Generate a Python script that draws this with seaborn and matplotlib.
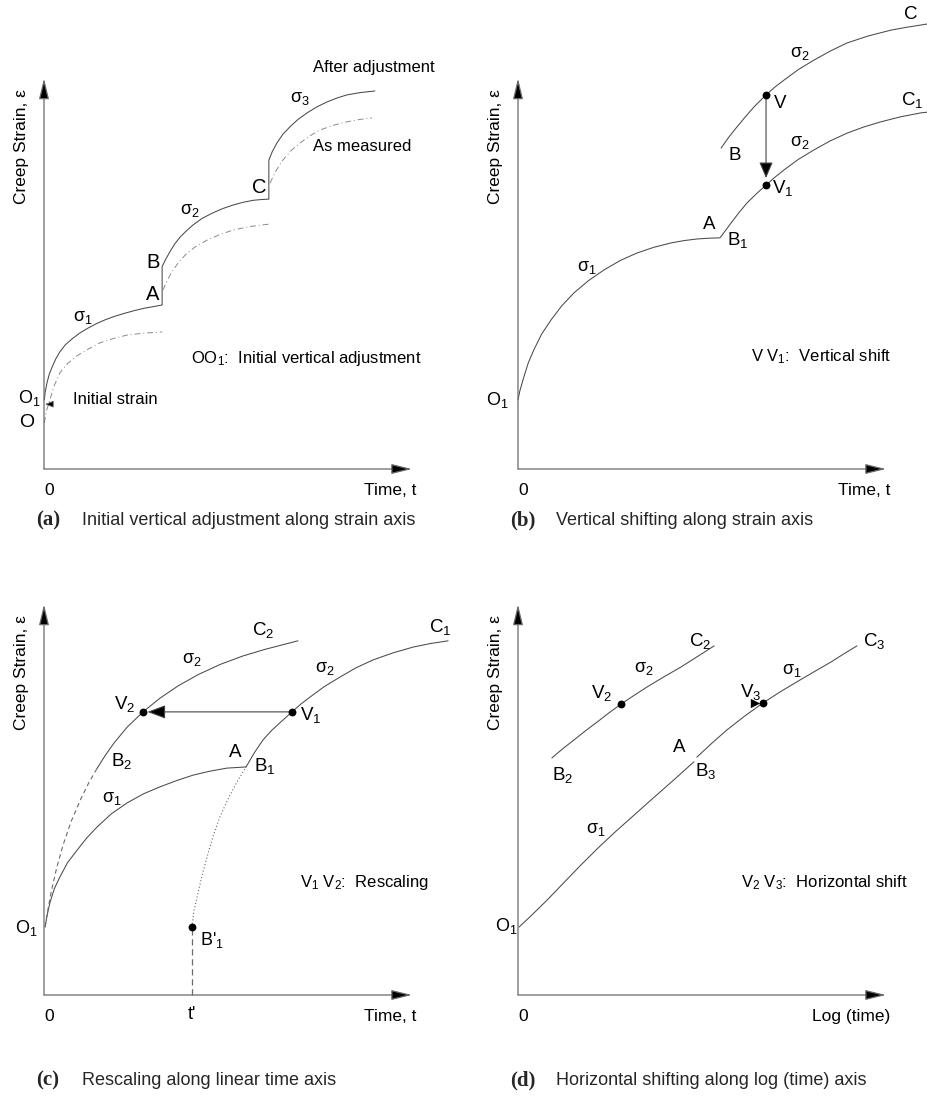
import numpy as np
import pandas as pd
import matplotlib
matplotlib.use("Agg")
import matplotlib.pyplot as plt
import seaborn as sns

# ---------------------------------------------------------------------------
# Curve data (time units along x, strain units along y; axes run 0..10)
# ---------------------------------------------------------------------------

# (a) initial vertical adjustment: adjusted curve (with the two load jumps)
a_adj_t = [0.01, 0.03, 0.08, 0.14, 0.22, 0.32, 0.43, 0.58, 0.76, 0.97, 1.20, 1.42,
           1.66, 1.92, 2.20, 2.47, 2.74, 2.98, 3.21,
           3.21, 3.30, 3.42, 3.55, 3.70, 3.87, 4.05, 4.30, 4.59, 4.86, 5.14, 5.41,
           5.68, 5.90, 6.11,
           6.11, 6.20, 6.33, 6.49, 6.68, 6.90, 7.15, 7.41, 7.69, 7.96, 8.23, 8.60, 8.99]
a_adj_e = [1.77, 1.96, 2.20, 2.42, 2.61, 2.82, 3.00, 3.18, 3.33, 3.48, 3.61, 3.72,
           3.82, 3.91, 3.99, 4.06, 4.12, 4.16, 4.20,
           5.18, 5.36, 5.56, 5.76, 5.94, 6.10, 6.25, 6.42, 6.56, 6.67, 6.76, 6.83,
           6.88, 6.90, 6.91,
           7.91, 8.12, 8.35, 8.57, 8.76, 8.95, 9.12, 9.27, 9.40, 9.50, 9.58, 9.64, 9.68]
# (a) as measured, one piece per stress level
a_meas1_t = [0.01, 0.06, 0.16, 0.28, 0.43, 0.64, 0.90, 1.20, 1.52, 1.88, 2.26, 2.72, 3.21]
a_meas1_e = [1.18, 1.47, 1.77, 2.14, 2.46, 2.70, 2.90, 3.07, 3.23, 3.34, 3.43, 3.48, 3.51]
a_meas2_t = [3.23, 3.36, 3.51, 3.69, 3.89, 4.14, 4.43, 4.77, 5.14, 5.60, 6.11]
a_meas2_e = [4.58, 4.85, 5.10, 5.33, 5.53, 5.71, 5.86, 6.00, 6.12, 6.21, 6.27]
a_meas3_t = [6.14, 6.30, 6.49, 6.71, 6.96, 7.22, 7.50, 7.85, 8.23, 8.57, 8.91]
a_meas3_e = [7.32, 7.63, 7.91, 8.15, 8.35, 8.53, 8.68, 8.80, 8.89, 8.95, 8.99]

# (b) vertical shifting
b_low_t = [0.00, 0.05, 0.16, 0.28, 0.43, 0.64, 0.90, 1.19, 1.52, 1.91, 2.34, 2.78,
           3.23, 3.70, 4.16, 4.52, 4.86, 5.18, 5.49,
           5.79, 6.00, 6.22, 6.48, 6.74, 6.98, 7.23, 7.62, 8.04, 8.48, 8.94, 9.40,
           9.86, 10.40, 10.95, 11.14]
b_low_e = [1.77, 2.00, 2.36, 2.72, 3.05, 3.45, 3.82, 4.18, 4.51, 4.82, 5.10, 5.34,
           5.53, 5.68, 5.79, 5.85, 5.89, 5.91, 5.92,
           6.30, 6.56, 6.81, 7.05, 7.27, 7.47, 7.66, 7.93, 8.17, 8.40, 8.60, 8.76,
           8.89, 9.02, 9.12, 9.14]
b_up_t = [5.52, 5.73, 5.95, 6.18, 6.41, 6.74, 6.98, 7.23, 7.62, 8.04, 8.48, 8.94,
          9.52, 10.14, 10.55, 10.95, 11.14]
b_up_e = [8.22, 8.50, 8.76, 9.02, 9.27, 9.58, 9.78, 9.96, 10.23, 10.47, 10.70, 10.91,
          11.09, 11.24, 11.31, 11.37, 11.40]
b_V = (6.74, 9.58)
b_V1 = (6.74, 7.27)

# (c) rescaling along linear time axis
c_s1_t = [0.03, 0.08, 0.16, 0.28, 0.43, 0.64, 0.90, 1.16, 1.44, 1.83, 2.26, 2.70,
          3.15, 3.60, 4.05, 4.50, 4.97, 5.49]
c_s1_e = [1.74, 2.02, 2.36, 2.72, 3.02, 3.39, 3.71, 4.02, 4.30, 4.64, 4.92, 5.15,
          5.33, 5.49, 5.63, 5.73, 5.81, 5.84]
c_s2_t = [5.49, 5.72, 5.95, 6.18, 6.41, 6.74, 6.98, 7.23, 7.62, 8.04, 8.48, 8.94,
          9.48, 10.03, 10.50, 10.98]
c_s2_e = [5.84, 6.21, 6.53, 6.77, 6.97, 7.25, 7.45, 7.63, 7.90, 8.14, 8.38, 8.58,
          8.76, 8.91, 9.00, 9.07]
c_ext_t = [4.02, 4.07, 4.16, 4.28, 4.43, 4.60, 4.78, 5.00, 5.24, 5.49]
c_ext_e = [1.74, 2.14, 2.51, 3.00, 3.53, 4.08, 4.56, 5.02, 5.45, 5.84]
c_res_dash_t = [0.03, 0.10, 0.20, 0.34, 0.52, 0.74, 1.00, 1.22, 1.44]
c_res_dash_e = [1.74, 2.15, 2.66, 3.24, 3.85, 4.45, 5.02, 5.44, 5.80]
c_res_t = [1.44, 1.66, 1.90, 2.26, 2.69, 3.15, 3.65, 4.20, 4.80, 5.40, 6.00, 6.90]
c_res_e = [5.80, 6.13, 6.45, 6.86, 7.25, 7.60, 7.92, 8.21, 8.47, 8.68, 8.85, 9.07]
c_t_prime = 4.02
c_B1p = (4.02, 1.74)
c_V1 = (6.74, 7.25)
c_V2 = (2.69, 7.25)

# (d) horizontal shifting along log(time) axis
d_low1_t = [0.03, 0.40, 0.79, 1.25, 1.71, 2.16, 2.61, 3.11, 3.61, 4.20, 4.78]
d_low1_e = [1.74, 2.07, 2.43, 2.88, 3.33, 3.75, 4.15, 4.57, 4.99, 5.48, 5.97]
d_low2_t = [4.86, 5.27, 5.68, 6.17, 6.66, 7.12, 7.58, 8.05, 8.51, 8.86, 9.21]
d_low2_e = [6.09, 6.45, 6.79, 7.15, 7.48, 7.76, 8.02, 8.28, 8.53, 8.74, 8.94]
d_up_t = [0.92, 1.22, 1.52, 1.84, 2.15, 2.48, 2.80, 3.15, 3.51, 3.97, 4.43, 4.88, 5.33]
d_up_e = [6.07, 6.31, 6.53, 6.77, 6.99, 7.23, 7.45, 7.67, 7.89, 8.15, 8.40, 8.67, 8.94]
d_V2 = (2.80, 7.45)
d_V3 = (6.66, 7.47)

# ---------------------------------------------------------------------------
sns.set_theme(style="white")
plt.rcParams["font.family"] = ["Liberation Sans", "DejaVu Sans"]
plt.rcParams["mathtext.fontset"] = "custom"
plt.rcParams["mathtext.rm"] = "Liberation Sans"
plt.rcParams["mathtext.it"] = "Liberation Sans"

W, H = 928, 1100
fig = plt.figure(figsize=(W / 100, H / 100), dpi=100)
fig.patch.set_facecolor("white")

LC = "#4a4a4a"
LW = 0.75


def make_axes(x0, y0, x1, y1):
    ax = fig.add_axes([x0 / W, 1 - y0 / H, (x1 - x0) / W, (y0 - y1) / H])
    ax.set_xlim(0, 10)
    ax.set_ylim(0, 10)
    ax.axis("off")
    # axes drawn as arrows
    for tip in [(10, 0), (0, 10)]:
        ax.annotate("", xy=tip, xytext=(0, 0), annotation_clip=False,
                    arrowprops=dict(arrowstyle="-|>,head_length=0.9,head_width=0.22",
                                    fc="black", ec="#6a6a6a", lw=0.9,
                                    shrinkA=0, shrinkB=0, mutation_scale=14))
    return ax


def curve(ax, t, e, **kw):
    df = pd.DataFrame({"t": t, "e": e})
    style = dict(color=LC, lw=LW)
    style.update(kw)
    sns.lineplot(data=df, x="t", y="e", sort=False, estimator=None, ax=ax,
                 clip_on=False, **style)


def dot(ax, pts, marker="o", size=32):
    df = pd.DataFrame({"t": [p[0] for p in pts], "e": [p[1] for p in pts]})
    sns.scatterplot(data=df, x="t", y="e", ax=ax, color="black", marker=marker,
                    s=size, edgecolor="black", linewidth=0, clip_on=False, zorder=5)


def lab(ax, t, e, s, size=12, ha="center"):
    ax.text(t, e, s, ha=ha, va="center", fontsize=size, color="black", clip_on=False)


def frame_text(ax, xlabel, cap_letter, cap_text, cap_e):
    lab(ax, -0.60, 8.25, "Creep Strain, ε", size=12.5)
    ax.texts[-1].set_rotation(90)
    lab(ax, 0.14, -0.54, "0", size=12.5)
    lab(ax, 10.11, -0.54, xlabel, size=12.5, ha="right")
    ax.text(-0.22, cap_e, cap_letter, ha="left", va="center", fontsize=15,
            fontweight="bold", family="Liberation Serif")
    ax.text(1.03, cap_e, cap_text, ha="left", va="center", fontsize=13)


# ----------------------------- panel (a) -----------------------------------
ax = make_axes(44, 469, 412, 78.5)
curve(ax, a_adj_t, a_adj_e)
for tt, ee in [(a_meas1_t, a_meas1_e), (a_meas2_t, a_meas2_e), (a_meas3_t, a_meas3_e)]:
    curve(ax, tt, ee, color="#8a8a8a", lw=0.7, linestyle=(0, (6, 3, 1, 3)))
ax.annotate("", xy=(0.03, 1.66), xytext=(0.24, 1.66), annotation_clip=False,
            arrowprops=dict(arrowstyle="-|>,head_length=0.5,head_width=0.2",
                            fc="black", ec="#555555", lw=0.6, shrinkA=0, shrinkB=0,
                            mutation_scale=10))
lab(ax, 7.31, 10.27, "After adjustment", ha="left")
lab(ax, 7.31, 8.25, "As measured", ha="left")
lab(ax, 3.99, 2.84, "OO$_1$:  Initial vertical adjustment", ha="left")
lab(ax, 0.79, 1.77, "Initial strain", ha="left")
lab(ax, -0.41, 1.82, "O$_1$", size=13)
lab(ax, -0.46, 1.18, "O", size=14)
lab(ax, 1.06, 3.87, "σ$_1$", size=13)
lab(ax, 3.97, 6.63, "σ$_2$", size=13)
lab(ax, 6.96, 9.50, "σ$_3$", size=13)
lab(ax, 2.96, 4.46, "A", size=14.5)
lab(ax, 2.96, 5.28, "B", size=14.5)
lab(ax, 5.84, 7.22, "C", size=14.5)
frame_text(ax, "Time, t", "(a)", "Initial vertical adjustment along strain axis", -1.33)

# ----------------------------- panel (b) -----------------------------------
ax = make_axes(518, 469, 886, 78.5)
curve(ax, b_low_t, b_low_e)
curve(ax, b_up_t, b_up_e)
ax.annotate("", xy=(b_V1[0], b_V1[1] + 0.18), xytext=b_V, annotation_clip=False,
            arrowprops=dict(arrowstyle="-|>,head_length=0.7,head_width=0.3",
                            fc="black", ec="#444444", lw=0.8, shrinkA=0, shrinkB=0,
                            mutation_scale=14))
dot(ax, [b_V, b_V1])
lab(ax, 10.68, 11.63, "C", size=13.5)
lab(ax, 10.71, 9.45, "C$_1$", size=13.5)
lab(ax, 7.66, 10.65, "σ$_2$", size=13)
lab(ax, 7.66, 8.37, "σ$_2$", size=13)
lab(ax, 7.12, 9.37, "V", size=13.5)
lab(ax, 5.90, 8.04, "B", size=13.5)
lab(ax, 7.20, 7.20, "V$_1$", size=13.5)
lab(ax, 5.19, 6.25, "A", size=13.5)
lab(ax, 5.98, 5.86, "B$_1$", size=13.5)
lab(ax, 1.88, 5.15, "σ$_1$", size=13)
lab(ax, -0.57, 1.77, "O$_1$", size=13)
lab(ax, 6.33, 2.87, "V V$_1$:  Vertical shift", ha="left")
frame_text(ax, "Time, t", "(b)", "Vertical shifting along strain axis", -1.33)

# ----------------------------- panel (c) -----------------------------------
ax = make_axes(44, 995, 412, 604.5)
curve(ax, c_s1_t, c_s1_e)
curve(ax, c_s2_t, c_s2_e)
curve(ax, c_ext_t, c_ext_e, color="#6a6a6a", lw=0.8, linestyle=(0, (1, 2)))
curve(ax, c_res_dash_t, c_res_dash_e, color="#6a6a6a", lw=0.8, linestyle=(0, (4, 3)))
curve(ax, c_res_t, c_res_e)
curve(ax, [c_t_prime, c_t_prime], [0, c_B1p[1]], color="#6a6a6a", lw=0.9,
      linestyle=(0, (5, 3)))
ax.annotate("", xy=(c_V2[0] + 0.12, c_V2[1]), xytext=c_V1, annotation_clip=False,
            arrowprops=dict(arrowstyle="-|>,head_length=0.8,head_width=0.3",
                            fc="black", ec="#444444", lw=0.8, shrinkA=0, shrinkB=0,
                            mutation_scale=14))
dot(ax, [c_V1, c_V2, c_B1p])
lab(ax, 5.95, 9.35, "C$_2$", size=13.5)
lab(ax, 4.02, 8.58, "σ$_2$", size=13)
lab(ax, 10.76, 9.42, "C$_1$", size=13.5)
lab(ax, 7.64, 8.37, "σ$_2$", size=13)
lab(ax, 2.20, 7.45, "V$_2$", size=13.5)
lab(ax, 7.26, 7.17, "V$_1$", size=13.5)
lab(ax, 5.19, 6.22, "A", size=13.5)
lab(ax, 6.01, 5.86, "B$_1$", size=13.5)
lab(ax, 2.12, 5.99, "B$_2$", size=13.5)
lab(ax, 1.85, 5.04, "σ$_1$", size=13)
lab(ax, -0.49, 1.72, "O$_1$", size=13)
lab(ax, 4.24, 1.41, "B'$_1$", size=13, ha="left")
lab(ax, 4.02, -0.51, "t'", size=13)
lab(ax, 6.96, 2.87, "V$_1$ V$_2$:  Rescaling", ha="left")
frame_text(ax, "Time, t", "(c)", "Rescaling along linear time axis", -2.18)

# ----------------------------- panel (d) -----------------------------------
ax = make_axes(518, 995, 886, 604.5)
curve(ax, d_low1_t, d_low1_e)
curve(ax, d_low2_t, d_low2_e)
curve(ax, d_up_t, d_up_e)
dot(ax, [d_V2, d_V3])
dot(ax, [(d_V3[0] - 0.22, d_V3[1])], marker=">", size=45)
lab(ax, 4.95, 9.07, "C$_2$", size=13.5)
lab(ax, 3.42, 8.35, "σ$_2$", size=13)
lab(ax, 2.28, 7.73, "V$_2$", size=13.5)
lab(ax, 9.67, 9.07, "C$_3$", size=13.5)
lab(ax, 7.45, 8.32, "σ$_1$", size=13)
lab(ax, 6.33, 7.76, "V$_3$", size=13.5)
lab(ax, 4.38, 6.35, "A", size=13.5)
lab(ax, 5.11, 5.74, "B$_3$", size=13.5)
lab(ax, 1.20, 5.63, "B$_2$", size=13.5)
lab(ax, 2.12, 4.23, "σ$_1$", size=13)
lab(ax, -0.33, 1.77, "O$_1$", size=13)
lab(ax, 6.06, 2.87, "V$_2$ V$_3$:  Horizontal shift", ha="left")
frame_text(ax, "Log (time)", "(d)", "Horizontal shifting along log (time) axis", -2.18)

fig.savefig("out.png", dpi=100, facecolor="white")
